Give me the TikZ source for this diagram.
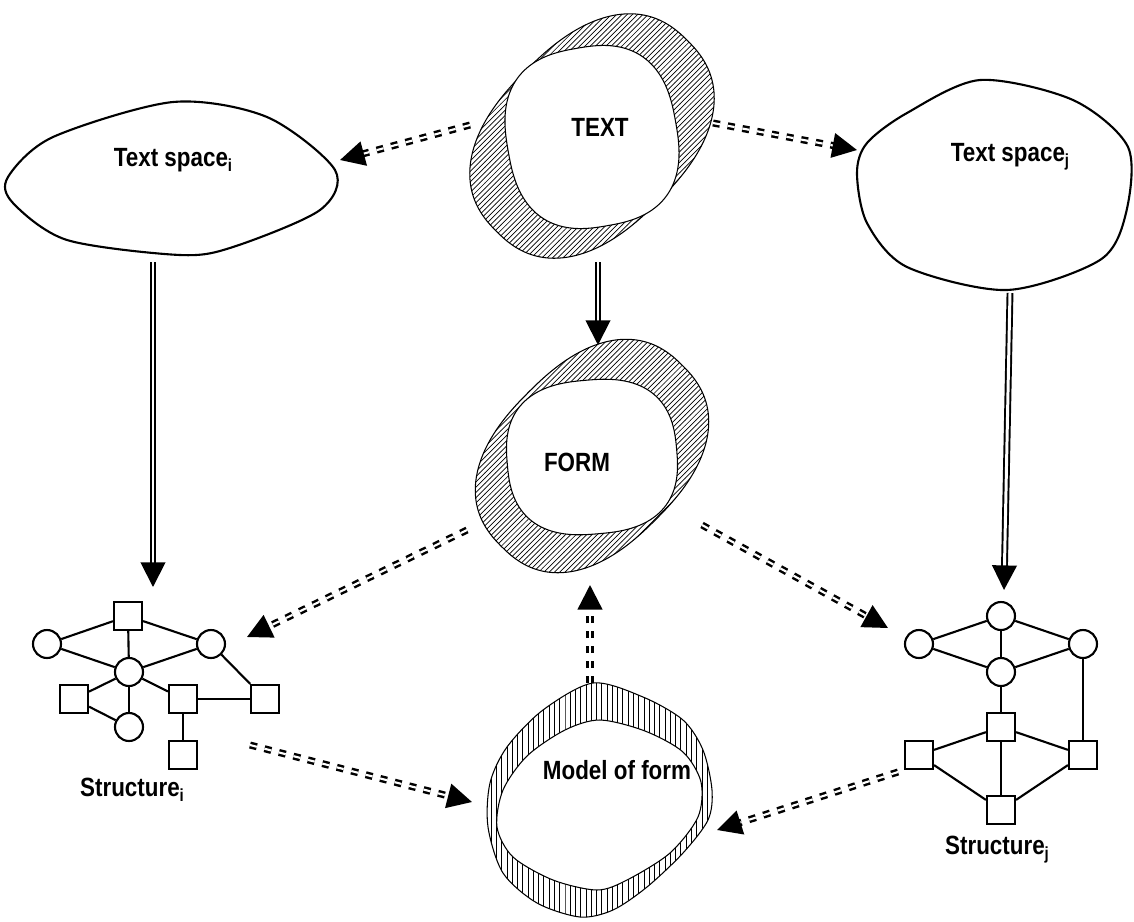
\documentclass[tikz,border=0pt]{standalone}
\usepackage{fontspec}
\setmainfont{Liberation Sans}[FakeStretch=0.85]
\usetikzlibrary{patterns,arrows.meta}

\newcommand{\sub}[1]{\raisebox{-0.35ex}{\fontsize{10}{10}\selectfont #1}}
% superellipse: centre x, centre y, half axes a b, turn, exponent
\newcommand{\blobpath}[6]{plot[domain=0.5:360.5,samples=121,smooth] ({#1+#3*cos(\x)*pow(abs(cos(\x)),2/#6-1)*cos(#5)-#4*sin(\x)*pow(abs(sin(\x)),2/#6-1)*sin(#5)},{#2+#3*cos(\x)*pow(abs(cos(\x)),2/#6-1)*sin(#5)+#4*sin(\x)*pow(abs(sin(\x)),2/#6-1)*cos(#5)}) -- cycle}

\begin{document}
\begin{tikzpicture}[x=0.02cm,y=-0.02cm,very thick,
    circ node/.style={circle,draw,minimum size=0.56cm,inner sep=0pt,fill=white},
    sq node/.style={rectangle,draw,minimum size=0.56cm,inner sep=0pt,fill=white},
    lbl/.style={font=\fontsize{15}{15}\selectfont\bfseries},
    ring/.style={line width=0.6pt,pattern=north east lines},
    hole/.style={line width=0.6pt,fill=white},
    solid arrow/.style={double,line width=1.1pt,double distance=1.7pt,-{Triangle[length=14pt,width=14pt]}},
    dash arrow/.style={double,line width=1.4pt,double distance=1.2pt,dash pattern=on 4pt off 4.5pt,-{Triangle[length=14pt,width=14pt]}}]

    \useasboundingbox (0,0) rectangle (1134,921);

    % text spaces
    \draw plot[smooth cycle] coordinates {(8,177) (53,137) (173,102) (267,117) (335,170) (320,210) (233,247) (180,255) (67,240) (13,203)};
    \draw plot[smooth cycle] coordinates {(857,173) (867,143) (907,113) (980,80) (1073,100) (1128,147) (1126,213) (1100,260) (1007,290) (907,267) (867,223)};
    \node[lbl] (tsi) at (173,160) {Text space\sub{i}};
    \node[lbl] (tsj) at (1010,157) {Text space\sub{j}};

    % TEXT ring
    \draw[ring] \blobpath{592}{136}{135}{93}{-45}{2.4};
    \draw[hole] \blobpath{592}{137}{85}{90}{-10}{2.6};
    \node[lbl] (text) at (600,127) {TEXT};

    % FORM ring
    \draw[ring] \blobpath{592}{456}{128}{90}{-45}{2.4};
    \draw[hole] \blobpath{592}{457}{85}{77}{-5}{2.6};
    \node[lbl] (form) at (577,462) {FORM};

    % model of form
    \draw[line width=0.6pt,pattern=vertical lines] plot[smooth cycle] coordinates {(593,683) (643,697) (683,720) (703,750) (712,790) (708,820) (683,853) (647,887) (613,910) (580,917) (537,903) (503,873) (488,827) (490,783) (507,747) (543,710)};
    \draw[hole] plot[smooth cycle] coordinates {(600,720) (645,731) (683,752) (701,782) (698,817) (670,853) (627,880) (597,890) (553,880) (513,857) (497,827) (503,790) (527,756) (565,730)};
    \node[lbl] (model) at (617,770) {Model of form};

    % structure i
    \node[sq node] (i1) at (128,616) {};
    \node[circ node] (i2) at (47,644) {};
    \node[circ node] (i3) at (211,644) {};
    \node[circ node] (i4) at (129,672) {};
    \node[sq node] (i5) at (74,699) {};
    \node[sq node] (i6) at (183,699) {};
    \node[sq node] (i7) at (265,699) {};
    \node[circ node] (i8) at (129,727) {};
    \node[sq node] (i9) at (183,755) {};
    \node[lbl] (sti) at (132,790) {Structure\sub{i}};

    \draw (i1) -- (i2);
    \draw (i1) -- (i3);
    \draw (i1) -- (i4);
    \draw (i2) -- (i4);
    \draw (i3) -- (i4);
    \draw (i3) -- (i7);
    \draw (i4) -- (i5);
    \draw (i4) -- (i8);
    \draw (i4) -- (i6);
    \draw (i5) -- (i8);
    \draw (i6) -- (i7);
    \draw (i6) -- (i9);

    % structure j
    \node[circ node] (j1) at (1001,616) {};
    \node[circ node] (j2) at (919,644) {};
    \node[circ node] (j3) at (1083,644) {};
    \node[circ node] (j4) at (1001,672) {};
    \node[sq node] (j5) at (1001,727) {};
    \node[sq node] (j6) at (919,755) {};
    \node[sq node] (j7) at (1083,755) {};
    \node[sq node] (j8) at (1001,810) {};
    \node[lbl] (stj) at (997,850) {Structure\sub{j}};

    \draw (j1) -- (j2);
    \draw (j1) -- (j3);
    \draw (j1) -- (j4);
    \draw (j2) -- (j4);
    \draw (j3) -- (j4);
    \draw (j4) -- (j5);
    \draw (j3) -- (j7);
    \draw (j5) -- (j6);
    \draw (j5) -- (j7);
    \draw (j5) -- (j8);
    \draw (j6) -- (j8);
    \draw (j7) -- (j8);

    % arrow ends
    \coordinate (a1) at (470,125);
    \coordinate (b1) at (340,160);
    \coordinate (a2) at (713,123);
    \coordinate (b2) at (857,150);
    \coordinate (a3) at (153,262);
    \coordinate (b3) at (153,587);
    \coordinate (a4) at (598,262);
    \coordinate (b4) at (598,345);
    \coordinate (a5) at (1010,293);
    \coordinate (b5) at (1004,590);
    \coordinate (a6) at (467,530);
    \coordinate (b6) at (247,637);
    \coordinate (a7) at (702,525);
    \coordinate (b7) at (888,628);
    \coordinate (a8) at (590,683);
    \coordinate (b8) at (590,585);
    \coordinate (a9) at (250,745);
    \coordinate (b9) at (472,802);
    \coordinate (a10) at (898,772);
    \coordinate (b10) at (717,830);

    \draw[solid arrow] (a3) -- (b3);
    \draw[solid arrow] (a4) -- (b4);
    \draw[solid arrow] (a5) -- (b5);
    \draw[dash arrow] (a1) -- (b1);
    \draw[dash arrow] (a2) -- (b2);
    \draw[dash arrow] (a6) -- (b6);
    \draw[dash arrow] (a7) -- (b7);
    \draw[dash arrow] (a8) -- (b8);
    \draw[dash arrow] (a9) -- (b9);
    \draw[dash arrow] (a10) -- (b10);
\end{tikzpicture}
\end{document}
